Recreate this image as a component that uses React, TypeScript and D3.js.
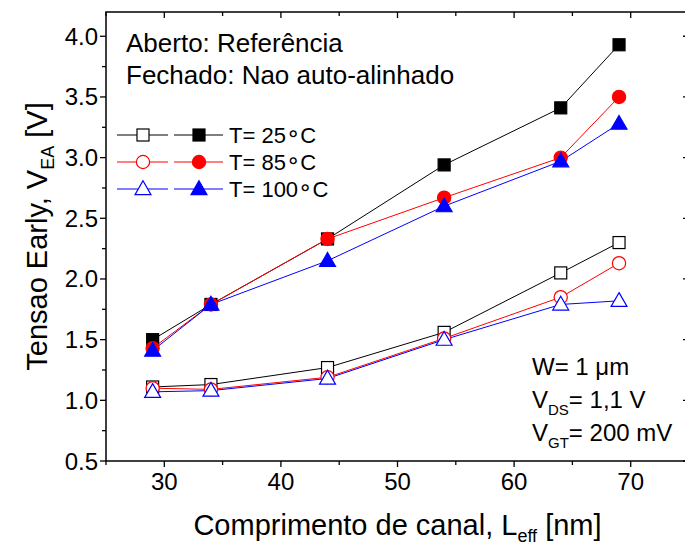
import React from "react";
import * as d3 from "d3";

// Channel length (nm) at which every series was measured
const lengths = [29, 34, 44, 54, 64, 69];

// Early voltage (V), self-aligned reference devices (open symbols)
const ref25 = [1.11, 1.13, 1.27, 1.56, 2.05, 2.30];
const ref85 = [1.10, 1.09, 1.19, 1.51, 1.85, 2.13];
const ref100 = [1.07, 1.08, 1.18, 1.50, 1.79, 1.82];

// Early voltage (V), non self-aligned devices (filled symbols)
const nsa25 = [1.50, 1.79, 2.33, 2.94, 3.41, 3.93];
const nsa85 = [1.43, 1.79, 2.33, 2.67, 3.00, 3.50];
const nsa100 = [1.41, 1.79, 2.15, 2.60, 2.97, 3.28];

const xTicks = [30, 40, 50, 60, 70];
const yTicks = [0.5, 1.0, 1.5, 2.0, 2.5, 3.0, 3.5, 4.0];
const legendTemps = ["25", "85", "100"];

type Shape = "square" | "circle" | "triangle";

const W = 685;
const H = 548;
const M = { left: 106, right: 689, top: 12, bottom: 461 };
const FONT = "'Liberation Sans', Arial, Helvetica, sans-serif";

const x = d3.scaleLinear().domain([25, 75]).range([M.left, M.right]);
const y = d3.scaleLinear().domain([0.5, 4.2]).range([M.bottom, M.top]);

function Marker({ cx, cy, shape, color, filled }: { cx: number; cy: number; shape: Shape; color: string; filled: boolean }) {
  const fill = filled ? color : "#fff";
  const sw = 1.2;
  if (shape === "square") {
    const s = 12;
    return <rect x={cx - s / 2} y={cy - s / 2} width={s} height={s} fill={fill} stroke={color} strokeWidth={sw} />;
  }
  if (shape === "circle") {
    return <circle cx={cx} cy={cy} r={6.6} fill={fill} stroke={color} strokeWidth={sw} />;
  }
  const sym = d3.symbol().type(d3.symbolTriangle).size(110)();
  return <path d={sym || ""} transform={`translate(${cx},${cy + 1})`} fill={fill} stroke={color} strokeWidth={sw} />;
}

const seriesDefs = [
  { values: ref25, color: "#000000", shape: "square" as Shape, filled: false },
  { values: ref85, color: "#ff0000", shape: "circle" as Shape, filled: false },
  { values: ref100, color: "#0000ff", shape: "triangle" as Shape, filled: false },
  { values: nsa25, color: "#000000", shape: "square" as Shape, filled: true },
  { values: nsa85, color: "#ff0000", shape: "circle" as Shape, filled: true },
  { values: nsa100, color: "#0000ff", shape: "triangle" as Shape, filled: true },
];

export default function App() {
  const line = d3
    .line<number>()
    .x((_, i) => x(lengths[i]))
    .y((d) => y(d));

  const xMinor = d3.range(25, 76, 5);
  const yMinor = d3.range(0.5, 4.21, 0.25);

  return (
    <svg
      width={W}
      height={H}
      style={{ position: "fixed", left: 0, top: 0, background: "#fff" }}
      fontFamily={FONT}
    >
      <rect x={0} y={0} width={W} height={H} fill="#fff" />

      {/* series lines */}
      {seriesDefs.map((s, k) => (
        <path key={`l${k}`} d={line(s.values) || ""} fill="none" stroke={s.color} strokeWidth={1} />
      ))}
      {/* series markers */}
      {seriesDefs.map((s, k) => (
        <g key={`m${k}`}>
          {s.values.map((v, i) => (
            <Marker key={i} cx={x(lengths[i])} cy={y(v)} shape={s.shape} color={s.color} filled={s.filled} />
          ))}
        </g>
      ))}

      {/* frame */}
      <rect x={M.left} y={M.top} width={M.right - M.left} height={M.bottom - M.top} fill="none" stroke="#000" strokeWidth={1.5} />

      {/* x ticks: outward on bottom, inward on top */}
      {xMinor.map((t) => {
        const major = t % 10 === 0;
        const len = major ? 6 : 4;
        return (
          <g key={`xt${t}`} stroke="#000" strokeWidth={1.3}>
            <line x1={x(t)} x2={x(t)} y1={M.bottom} y2={M.bottom + len} />
            <line x1={x(t)} x2={x(t)} y1={M.top} y2={M.top + len} />
          </g>
        );
      })}
      {xTicks.map((t) => (
        <text key={`xl${t}`} x={x(t)} y={M.bottom + 29} fontSize={24} textAnchor="middle" fill="#000">
          {t}
        </text>
      ))}

      {/* y ticks: outward on left, inward on right */}
      {yMinor.map((t, i) => {
        const major = i % 2 === 0;
        const len = major ? 6 : 4;
        return (
          <g key={`yt${i}`} stroke="#000" strokeWidth={1.3}>
            <line x1={M.left} x2={M.left - len} y1={y(t)} y2={y(t)} />
            <line x1={M.right} x2={M.right - len} y1={y(t)} y2={y(t)} />
          </g>
        );
      })}
      {yTicks.map((t) => (
        <text key={`yl${t}`} x={M.left - 8} y={y(t) + 8.5} fontSize={24} textAnchor="end" fill="#000">
          {d3.format(".1f")(t)}
        </text>
      ))}

      {/* axis titles */}
      <text x={(M.left + M.right) / 2} y={535} fontSize={29} textAnchor="middle" fill="#000">
        Comprimento de canal, L<tspan fontSize={18} dy={7}>eff</tspan>
        <tspan dy={-7}> [nm]</tspan>
      </text>
      <text transform={`translate(47,${(M.top + M.bottom) / 2}) rotate(-90)`} fontSize={29} textAnchor="middle" fill="#000">
        Tensao Early, V<tspan fontSize={18} dy={7}>EA</tspan>
        <tspan dy={-7}> [V]</tspan>
      </text>

      {/* device type note */}
      <text x={126} y={52} fontSize={26} fill="#000">{"Aberto: Refer\u00EAncia"}</text>
      <text x={126} y={84} fontSize={26} fill="#000">Fechado: Nao auto-alinhado</text>

      {/* legend */}
      {legendTemps.map((temp, i) => {
        const s0 = seriesDefs[i];
        const s1 = seriesDefs[i + 3];
        const ly = 135 + i * 27;
        return (
          <g key={`lg${i}`}>
            <line x1={117} x2={168} y1={ly} y2={ly} stroke={s0.color} strokeWidth={1} />
            <Marker cx={143} cy={ly} shape={s0.shape} color={s0.color} filled={false} />
            <line x1={174} x2={223} y1={ly} y2={ly} stroke={s1.color} strokeWidth={1} />
            <Marker cx={199} cy={ly} shape={s1.shape} color={s1.color} filled={true} />
            <text x={229} y={ly + 8} fontSize={22} fill="#000">
              {`T= ${temp}`}
              <tspan fontFamily="'DejaVu Sans', sans-serif" fontSize={23} dy={-2}>{"\u2218"}</tspan>
              <tspan dy={2}>C</tspan>
            </text>
          </g>
        );
      })}

      {/* bias conditions */}
      <text x={532} y={375} fontSize={24} fill="#000">{"W= 1 \u03BCm"}</text>
      <text x={532} y={408} fontSize={24} fill="#000">
        V<tspan fontSize={15} dy={7}>DS</tspan>
        <tspan dy={-7}>= 1,1 V</tspan>
      </text>
      <text x={532} y={441} fontSize={24} fill="#000">
        V<tspan fontSize={15} dy={7}>GT</tspan>
        <tspan dy={-7}>= 200 mV</tspan>
      </text>
    </svg>
  );
}
